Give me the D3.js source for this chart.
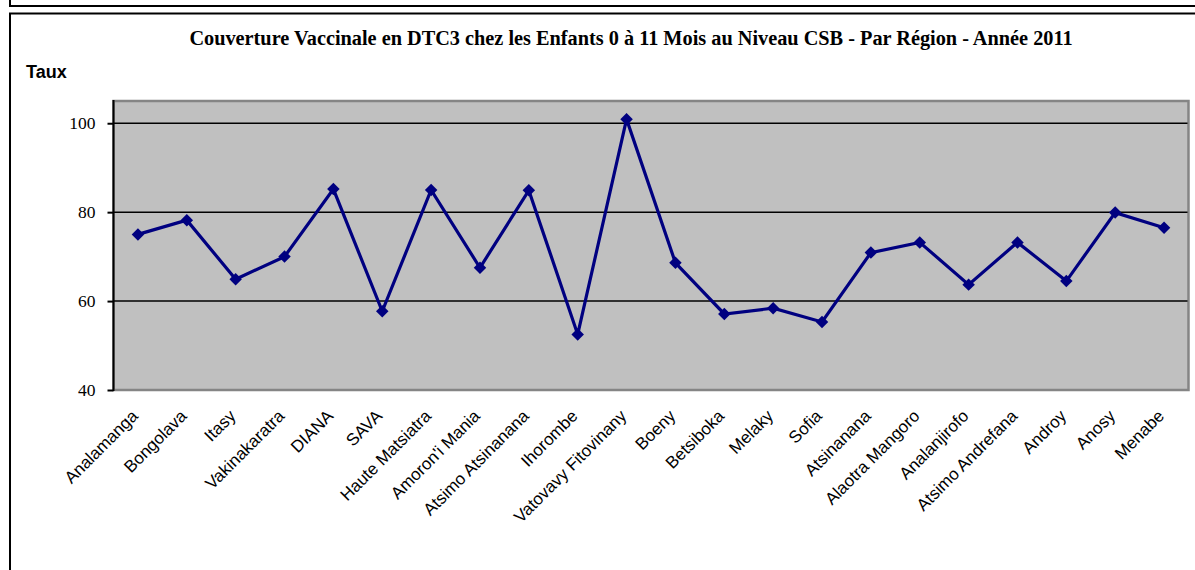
<!DOCTYPE html>
<html>
<head>
<meta charset="utf-8">
<script src="https://cdn.jsdelivr.net/npm/d3@7/dist/d3.min.js"></script>
<style>
  html, body { margin: 0; padding: 0; background: #ffffff; }
  svg { display: block; }
</style>
</head>
<body>
<svg id="chart" width="1195" height="570"></svg>
<script>
const categories = ["Analamanga", "Bongolava", "Itasy", "Vakinakaratra", "DIANA", "SAVA",
  "Haute Matsiatra", "Amoron'i Mania", "Atsimo Atsinanana", "Ihorombe", "Vatovavy Fitovinany",
  "Boeny", "Betsiboka", "Melaky", "Sofia", "Atsinanana", "Alaotra Mangoro", "Analanjirofo",
  "Atsimo Andrefana", "Androy", "Anosy", "Menabe"];
const values = [75.0, 78.2, 64.9, 70.0, 85.2, 57.7, 85.0, 67.5, 84.9, 52.5, 100.9,
  68.6, 57.1, 58.4, 55.3, 70.9, 73.2, 63.7, 73.2, 64.5, 79.9, 76.5];
const yTicks = [40, 60, 80, 100];
const titleText = "Couverture Vaccinale en DTC3 chez les Enfants 0 à 11 Mois au Niveau CSB - Par Région - Année 2011";
const yAxisTitle = "Taux";

const svg = d3.select("#chart");

// outer frames
svg.append("rect").attr("x", 10).attr("y", -10).attr("width", 1200).attr("height", 16)
  .attr("fill", "none").attr("stroke", "#000").attr("stroke-width", 2);
svg.append("rect").attr("x", 10).attr("y", 13.5).attr("width", 1200).attr("height", 600)
  .attr("fill", "none").attr("stroke", "#000").attr("stroke-width", 2);

const plot = { left: 113.5, right: 1188.5, top: 101, bottom: 390 };

const x = d3.scaleBand().domain(categories).range([plot.left, plot.right]);
const y = d3.scaleLinear().domain([40, 105]).range([plot.bottom, plot.top]);

// plot area
svg.append("rect")
  .attr("x", plot.left).attr("y", plot.top)
  .attr("width", plot.right - plot.left).attr("height", plot.bottom - plot.top)
  .attr("fill", "#c0c0c0").attr("stroke", "#858585").attr("stroke-width", 2.5);

// gridlines
svg.append("g").selectAll("line").data(yTicks.filter(d => d > 40)).join("line")
  .attr("x1", plot.left).attr("x2", plot.right - 1)
  .attr("y1", d => y(d)).attr("y2", d => y(d))
  .attr("stroke", "#000").attr("stroke-width", 1.5);

// y axis
const yAxis = d3.axisLeft(y).tickValues(yTicks).tickSize(6).tickPadding(12);
const gy = svg.append("g").attr("transform", `translate(${plot.left},0)`).call(yAxis);
gy.select(".domain").remove();
gy.append("line").attr("x1", 0).attr("x2", 0).attr("y1", plot.top - 1).attr("y2", plot.bottom + 1)
  .attr("stroke", "#000").attr("stroke-width", 2);
gy.selectAll(".tick line").attr("stroke", "#000").attr("stroke-width", 2);
gy.selectAll(".tick text")
  .attr("font-family", "'Liberation Serif', 'Times New Roman', serif")
  .attr("font-size", 17.5).attr("fill", "#000");

// x labels
const xAxis = d3.axisBottom(x).tickSize(0).tickPadding(0);
const gx = svg.append("g").attr("transform", `translate(0,${plot.bottom})`).call(xAxis);
gx.select(".domain").remove();
gx.selectAll(".tick text")
  .attr("font-family", "'Liberation Sans', Arial, sans-serif")
  .attr("font-size", 17).attr("fill", "#000")
  .attr("text-anchor", "end")
  .attr("dy", 0).attr("y", 0)
  .attr("transform", "translate(1,27) rotate(-45)");

// line
const line = d3.line().x((d, i) => x(categories[i]) + x.bandwidth() / 2).y(d => y(d));
svg.append("path").datum(values).attr("d", line)
  .attr("fill", "none").attr("stroke", "#000080").attr("stroke-width", 3.2)
  .attr("stroke-linejoin", "miter");

// markers
const sym = d3.symbol().type(d3.symbolSquare).size(78);
svg.append("g").selectAll("path").data(values).join("path")
  .attr("d", sym)
  .attr("transform", (d, i) => `translate(${x(categories[i]) + x.bandwidth() / 2},${y(d)}) rotate(45)`)
  .attr("fill", "#000080");

// title
svg.append("text").attr("x", 631).attr("y", 45).attr("text-anchor", "middle")
  .attr("font-family", "'Liberation Serif', 'Times New Roman', serif")
  .attr("font-weight", "bold").attr("font-size", 20.3).text(titleText);

svg.append("text").attr("x", 26).attr("y", 78)
  .attr("font-family", "'Liberation Sans', Arial, sans-serif")
  .attr("font-weight", "bold").attr("font-size", 18).text(yAxisTitle);
</script>
</body>
</html>
